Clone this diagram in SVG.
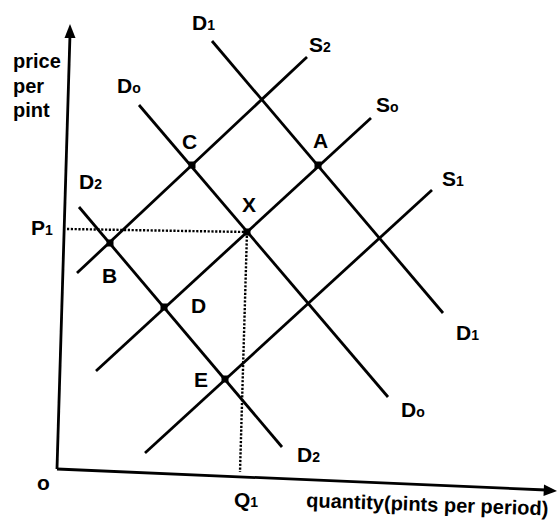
<svg xmlns="http://www.w3.org/2000/svg" width="557" height="523" viewBox="0 0 557 523">
<style>
text{font-family:"Liberation Sans",Arial,sans-serif;font-weight:bold;font-size:20px;fill:#000}
.big{font-size:21px}
.sub{font-size:14px}
.ln{stroke:#000;stroke-width:2.8;fill:none;stroke-linecap:butt}
.dot{stroke:#000;stroke-width:2.4;stroke-dasharray:2.2 1.6;fill:none}
.pt{fill:#000}
</style>
<rect width="557" height="523" fill="#fff"/>
<g id="axes">
<line class="ln" x1="57" y1="469" x2="70" y2="34"/>
<polygon class="pt" points="70,24 64.5,38 75.5,38"/>
<line class="ln" x1="57" y1="469" x2="546" y2="490"/>
<polygon class="pt" points="557,491 544,484.5 543.5,496"/>
</g>
<g id="connectors">
<line id="S2" class="ln" x1="77" y1="273" x2="307" y2="57"/>
<line id="D1" class="ln" x1="212" y1="41" x2="443" y2="313"/>
<line id="D0" class="ln" x1="139" y1="105" x2="388" y2="397"/>
<line id="S0" class="ln" x1="96" y1="371" x2="371" y2="118"/>
<line id="S1" class="ln" x1="145" y1="453" x2="432" y2="190"/>
<line id="D2" class="ln" x1="79" y1="207" x2="282" y2="447"/>
<line id="P1line" class="dot" x1="67" y1="229" x2="247" y2="232"/>
<line id="Q1line" class="dot" x1="247" y1="232" x2="240" y2="472"/>
</g>
<g id="points">
<rect id="C" class="pt" x="188.5" y="161.5" width="7" height="7"/>
<rect id="A" class="pt" x="314.5" y="161.5" width="7" height="7"/>
<rect id="X" class="pt" x="243.5" y="228.5" width="7" height="7"/>
<rect id="B" class="pt" x="106.5" y="239.5" width="7" height="7"/>
<rect id="D" class="pt" x="160.5" y="303.5" width="7" height="7"/>
<rect id="E" class="pt" x="221.5" y="375.5" width="7" height="7"/>
</g>
<g id="labels">
<text x="13" y="68">price</text>
<text x="13" y="93">per</text>
<text x="13" y="117">pint</text>
<text class="big" x="192" y="30">D<tspan class="sub">1</tspan></text>
<text class="big" x="309" y="52">S<tspan class="sub">2</tspan></text>
<text class="big" x="117" y="93">D<tspan class="sub">o</tspan></text>
<text class="big" x="376" y="112">S<tspan class="sub">o</tspan></text>
<text class="big" x="182" y="149">C</text>
<text class="big" x="313" y="148">A</text>
<text class="big" x="79" y="189">D<tspan class="sub">2</tspan></text>
<text class="big" x="442" y="186">S<tspan class="sub">1</tspan></text>
<text class="big" x="31" y="235">P<tspan class="sub">1</tspan></text>
<text class="big" x="242" y="212">X</text>
<text class="big" x="102" y="283">B</text>
<text class="big" x="191" y="313">D</text>
<text class="big" x="456" y="340">D<tspan class="sub">1</tspan></text>
<text class="big" x="194" y="387">E</text>
<text class="big" x="401" y="417">D<tspan class="sub">o</tspan></text>
<text class="big" x="297" y="462">D<tspan class="sub">2</tspan></text>
<text class="big" x="37" y="490">o</text>
<text class="big" x="234" y="507">Q<tspan class="sub">1</tspan></text>
<text x="306" y="507" transform="rotate(2 306 507)">quantity(pints per period)</text>
</g>
</svg>
